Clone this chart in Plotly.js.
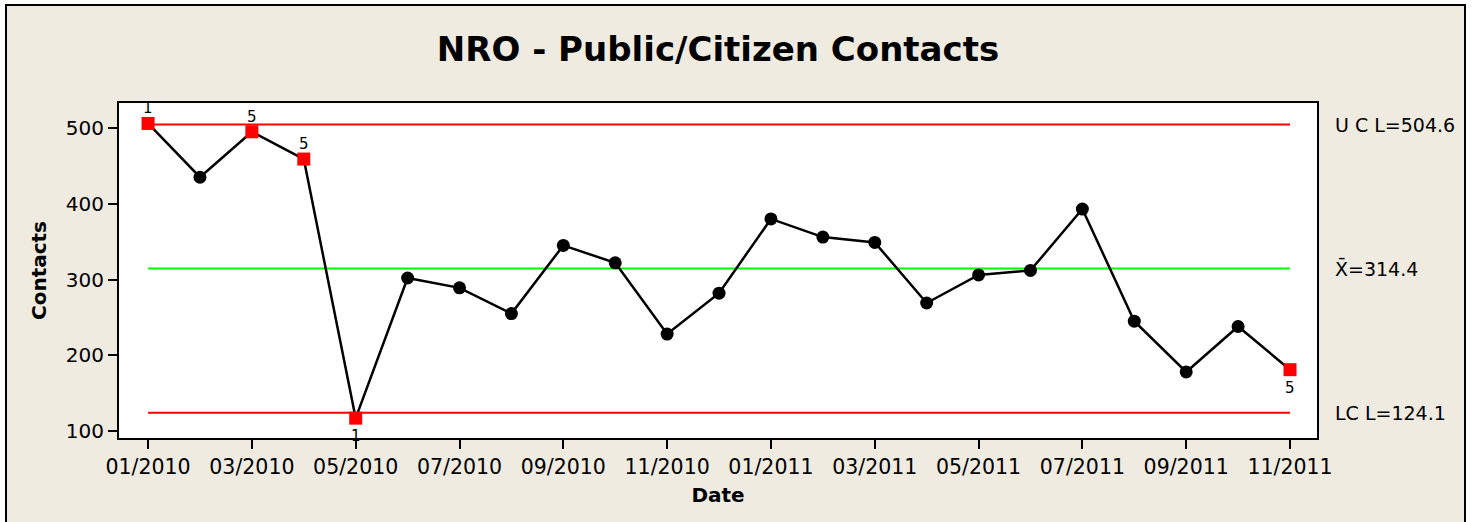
<!DOCTYPE html>
<html>
<head>
<meta charset="utf-8">
<script src="https://cdn.plot.ly/plotly-3.0.1.min.js"></script>
<style>
  body { margin: 0; background: #fff; overflow: hidden; }
  #frame { position: absolute; left: 5px; top: 4px; width: 1457px; height: 530px;
           border: 2px solid #000; background: #EFEBE1; }
</style>
</head>
<body>
<div id="frame"><div id="chart"></div></div>
<script>
const months = ["01/2010","02/2010","03/2010","04/2010","05/2010","06/2010","07/2010","08/2010",
                "09/2010","10/2010","11/2010","12/2010","01/2011","02/2011","03/2011","04/2011",
                "05/2011","06/2011","07/2011","08/2011","09/2011","10/2011","11/2011"];
const contacts = [506, 435, 495, 459, 117, 302, 289, 255, 345, 322, 228, 282,
                  380, 356, 349, 269, 306, 312, 393, 245, 178, 238, 181];
// points that failed a test, with the test number and where the label goes
const flagged = [0, 2, 3, 4, 22];
const testNo = ["1", "5", "5", "1", "5"];
const labelAbove = [true, true, true, false, false];
const tickLabels = months.filter((m, i) => i % 2 === 0);

const UCL = 504.6, CL = 314.4, LCL = 124.1;

const font = "DejaVu Sans, Verdana, sans-serif";

function limitLine(y, color) {
    return {
        x: [months[0], months[months.length - 1]],
        y: [y, y],
        type: 'scatter',
        mode: 'lines',
        line: { color: color, width: 2 },
        hoverinfo: 'skip',
        showlegend: false
    };
}

// normal points get a black dot, flagged points a red square only
const dotColors = contacts.map((v, i) => flagged.includes(i) ? 'rgba(0,0,0,0)' : '#000');

const data = [
    limitLine(UCL, '#FF0000'),
    limitLine(CL, '#00FF00'),
    limitLine(LCL, '#FF0000'),
    {
        x: months,
        y: contacts,
        type: 'scatter',
        mode: 'lines+markers',
        line: { color: '#000', width: 2.5 },
        marker: { color: dotColors, size: 13, symbol: 'circle' },
        showlegend: false
    },
    {
        x: flagged.map(i => months[i]),
        y: flagged.map(i => contacts[i]),
        type: 'scatter',
        mode: 'markers',
        marker: { color: '#FF0000', size: 13, symbol: 'square' },
        showlegend: false
    }
];

const annotations = flagged.map((idx, k) => ({
    x: months[idx], y: contacts[idx], xref: 'x', yref: 'y',
    text: testNo[k], showarrow: false,
    yshift: labelAbove[k] ? 15 : -18,
    font: { family: font, size: 15, color: '#000' }
}));

const sideLabels = [[UCL, "U C L=504.6"], [CL, "X\u0304=314.4"], [LCL, "LC L=124.1"]];
sideLabels.forEach(s => annotations.push({
    x: 1.0134, y: s[0], xref: 'paper', yref: 'y', xanchor: 'left',
    text: s[1], showarrow: false,
    font: { family: font, size: 19, color: '#000' }
}));

const layout = {
    width: 1457,
    height: 530,
    margin: { l: 112, r: 147, t: 97, b: 98 },
    paper_bgcolor: '#EFEBE1',
    plot_bgcolor: '#FFFFFF',
    font: { family: font, color: '#000' },
    title: {
        text: '<b>NRO - Public/Citizen Contacts</b>',
        font: { family: font, size: 34, color: '#000' },
        x: 0.5, xref: 'paper', y: 0.919, yref: 'container', yanchor: 'middle'
    },
    xaxis: {
        type: 'category',
        categoryorder: 'array',
        categoryarray: months,
        range: [-0.56, 22.52],
        tickmode: 'array',
        tickvals: tickLabels,
        ticktext: tickLabels,
        ticks: 'outside', ticklen: 9, tickwidth: 2, tickcolor: '#000',
        tickfont: { family: font, size: 20.5 },
        showline: true, linecolor: '#000', linewidth: 2, mirror: true,
        showgrid: false, zeroline: false,
        title: { text: '<b>Date</b>', font: { family: font, size: 20 }, standoff: 10 }
    },
    yaxis: {
        range: [90.8, 533],
        tickvals: [100, 200, 300, 400, 500],
        ticks: 'outside', ticklen: 9, tickwidth: 2, tickcolor: '#000',
        tickfont: { family: font, size: 20 },
        showline: true, linecolor: '#000', linewidth: 2, mirror: true,
        showgrid: false, zeroline: false,
        title: { text: '<b>Contacts</b>', font: { family: font, size: 20 }, standoff: 14 }
    },
    annotations: annotations
};

Plotly.newPlot('chart', data, layout, { displayModeBar: false, staticPlot: true });
</script>
</body>
</html>
